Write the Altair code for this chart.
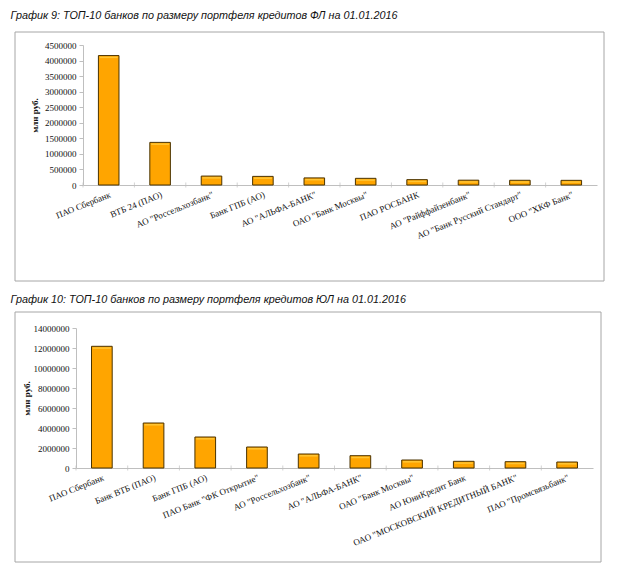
import altair as alt
import pandas as pd

# ---- data ----
banks_fl = ['ПАО Сбербанк', 'ВТБ 24 (ПАО)', 'АО "Россельхозбанк"', 'Банк ГПБ (АО)',
            'АО "АЛЬФА-БАНК"', 'ОАО "Банк Москвы"', 'ПАО РОСБАНК',
            'АО "Райффайзенбанк"', 'АО "Банк Русский Стандарт"', 'ООО "ХКФ Банк"']
values_fl = [4160000, 1370000, 287000, 277000, 228000, 214000, 172000, 155000, 152000, 150000]

banks_ul = ['ПАО Сбербанк', 'Банк ВТБ (ПАО)', 'Банк ГПБ (АО)', 'ПАО Банк "ФК Открытие"',
            'АО "Россельхозбанк"', 'АО "АЛЬФА-БАНК"', 'ОАО "Банк Москвы"',
            'АО ЮниКредит Банк', 'ОАО "МОСКОВСКИЙ КРЕДИТНЫЙ БАНК"', 'ПАО "Промсвязьбанк"']
values_ul = [12170000, 4500000, 3100000, 2100000, 1400000, 1230000, 800000, 670000, 630000, 600000]

ticks_fl = [0, 500000, 1000000, 1500000, 2000000, 2500000, 3000000, 3500000, 4000000, 4500000]
ticks_ul = [0, 2000000, 4000000, 6000000, 8000000, 10000000, 12000000, 14000000]

title_fl = 'График 9: ТОП-10 банков по размеру портфеля кредитов ФЛ на 01.01.2016'
title_ul = 'График 10: ТОП-10 банков по размеру портфеля кредитов ЮЛ на 01.01.2016'
y_title = 'млн руб.'

SERIF = 'Liberation Serif'
AXIS_GRAY = '#BFBFBF'


def panel(banks, values, ticks, title, w, h, xrange, yoff, frame, title_offset, y_pad):
    df = pd.DataFrame({'bank': banks, 'value': values})
    xscale = alt.Scale(paddingInner=0, paddingOuter=0, range=xrange)
    yscale = alt.Scale(domain=[ticks[0], ticks[-1]], nice=False)
    xaxis = alt.Axis(labelAngle=338, labelAlign='right', labelBaseline='top',
                     labelFont=SERIF, labelFontSize=9, labelColor='#111',
                     labelLimit=400, labelPadding=5, ticks=False,
                     labelOverlap=False, domainColor=AXIS_GRAY)
    yaxis = alt.Axis(values=ticks, format='d', grid=False, offset=yoff,
                     labelOverlap=False, labelFlush=False,
                     labelFont=SERIF, labelFontSize=9, labelColor='#111',
                     titleFont=SERIF, titleFontSize=9, titleFontWeight='bold',
                     titleColor='#111', titlePadding=y_pad,
                     tickColor=AXIS_GRAY, tickSize=4, domainColor=AXIS_GRAY,
                     labelPadding=3)
    xenc = alt.X('bank:N', sort=banks, title=None, scale=xscale, axis=xaxis)
    yenc = alt.Y('value:Q', title=y_title, scale=yscale, axis=yaxis)
    fx0, fx1, fy0, fy1 = frame
    box = alt.Chart(pd.DataFrame({'k': [0]})).mark_rect(
        filled=False, stroke='#A6A6A6', strokeWidth=1
    ).encode(x=alt.value(fx0), x2=alt.value(fx1), y=alt.value(fy0), y2=alt.value(fy1))
    bars = alt.Chart(df).mark_bar(
        width=alt.RelativeBandSize(0.4), color='#FFA500', stroke='#4A3300', strokeWidth=1
    ).encode(x=xenc, y=yenc)
    shine = alt.Chart(df).mark_tick(
        orient='horizontal', color='#FFD34A', size=18, thickness=1.5, yOffset=1.8
    ).encode(x=xenc, y=yenc)
    tickm = alt.Chart(df).mark_tick(orient='vertical', color=AXIS_GRAY, size=5, thickness=1).encode(
        x=alt.X('bank:N', sort=banks, title=None, bandPosition=0, scale=xscale, axis=xaxis),
        y=alt.YDatum(0, title=y_title, scale=yscale, axis=yaxis))
    return alt.layer(box, bars, shine, tickm).properties(
        width=w, height=h,
        title=alt.TitleParams(title, anchor='start', frame='bounds', font='Liberation Sans',
                              fontStyle='italic', fontWeight='normal', fontSize=10.8,
                              color='#111', offset=title_offset, dx=-4))


c1 = panel(banks_fl, values_fl, ticks_fl, title_fl, 514, 140, [0, 514], 0,
           (-68, 521, -13, 236), 11, 5)
c2 = panel(banks_ul, values_ul, ticks_ul, title_ul, 510, 140, [-7, 510], 7,
           (-68, 518, -16, 234), 7, 2)

chart = alt.vconcat(c1, c2, spacing=11).properties(
    background='white',
    padding={'left': 2, 'top': 1, 'right': 2, 'bottom': 2}
).configure_view(stroke='transparent', strokeWidth=0)

chart.save('out.html', embed_options={'renderer': 'svg', 'actions': False})
